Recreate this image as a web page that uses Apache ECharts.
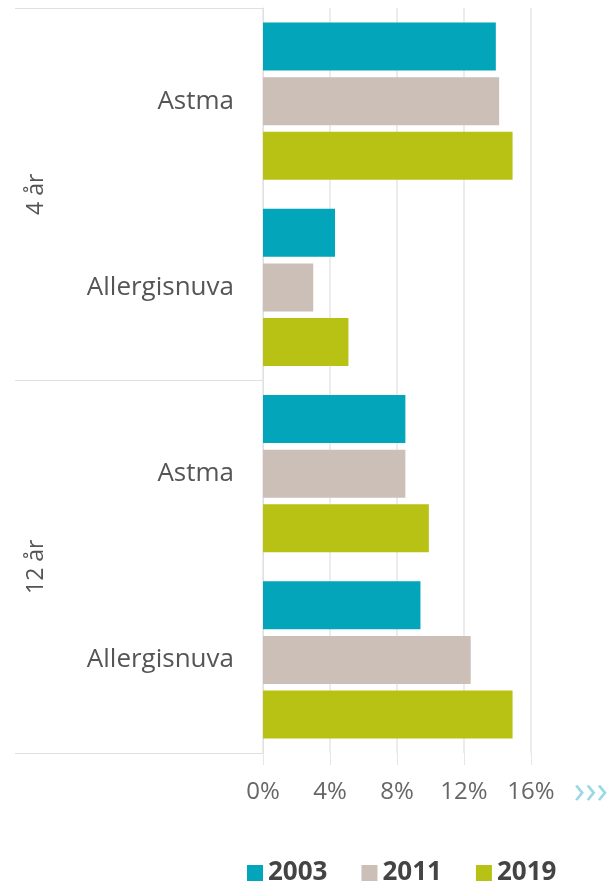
<!DOCTYPE html>
<html>
<head>
<meta charset="utf-8">
<script src="https://cdn.jsdelivr.net/npm/echarts@6/dist/echarts.min.js"></script>
<style>
  html, body { margin: 0; padding: 0; background: #fff; }
  #chart { width: 613px; height: 888px; }
</style>
</head>
<body>
<div id="chart"></div>
<script>
// kategorier (uppifrån och ned)
const categories = ['Astma', 'Allergisnuva', 'Astma', 'Allergisnuva']
const ageGroups = ['4 år', '12 år']
const years = ['2003', '2011', '2019']
// andel i procent
const values2003 = [13.9, 4.3, 8.5, 9.4]
const values2011 = [14.1, 3.0, 8.5, 12.4]
const values2019 = [14.9, 5.1, 9.9, 14.9]
const xTicks = [0, 16, 4] // min, max, steg

const colors = ['#02a5b9', '#cbbfb8', '#b8c214']
const font = '"Open Sans", "Noto Sans", sans-serif'

const chart = echarts.init(document.getElementById('chart'))

const seriesData = [values2003, values2011, values2019]
const series = years.map((y, i) => ({
  name: y,
  type: 'bar',
  yAxisIndex: 0,
  data: seriesData[i],
  barWidth: 48,
  barGap: '14%',
  itemStyle: { color: colors[i] },
  silent: true
}))

const option = {
  backgroundColor: '#fff',
  animation: false,
  textStyle: { fontFamily: font },
  grid: { left: 263, right: 82, top: 8, bottom: 135 },
  xAxis: {
    type: 'value',
    min: xTicks[0],
    max: xTicks[1],
    interval: xTicks[2],
    axisLine: { show: false },
    axisTick: { show: true, length: 12, lineStyle: { color: '#e6e6e6' } },
    splitLine: { lineStyle: { color: '#e6e6e6', width: 1.5 } },
    axisLabel: {
      formatter: '{value}%',
      fontSize: 24,
      color: '#666',
      margin: 27,
      fontFamily: font
    }
  },
  yAxis: [
    {
      type: 'category',
      inverse: true,
      data: categories,
      axisLine: { show: true, lineStyle: { color: '#e0e0e0' } },
      axisTick: { show: false },
      axisLabel: { fontSize: 26, color: '#555', margin: 29, fontFamily: font }
    },
    {
      type: 'category',
      inverse: true,
      position: 'left',
      offset: 248,
      data: ageGroups,
      axisLine: { show: false },
      axisTick: { show: true, inside: true, length: 248, lineStyle: { color: '#e0e0e0' } },
      axisLabel: {
        inside: true,
        rotate: 90,
        fontSize: 23,
        color: '#555',
        margin: 10,
        fontFamily: font
      }
    }
  ],
  legend: {
    data: years,
    left: 242,
    top: 855,
    icon: 'rect',
    itemWidth: 16,
    itemHeight: 16,
    itemGap: 34,
    textStyle: { fontSize: 26, fontWeight: 'bold', color: '#444', fontFamily: font }
  },
  graphic: [
    {
      type: 'text',
      right: 5,
      bottom: 77,
      style: { text: '›››', fontSize: 38, fill: '#9ad8e5', fontFamily: font }
    }
  ],
  series: series
}

chart.setOption(option)
</script>
</body>
</html>
